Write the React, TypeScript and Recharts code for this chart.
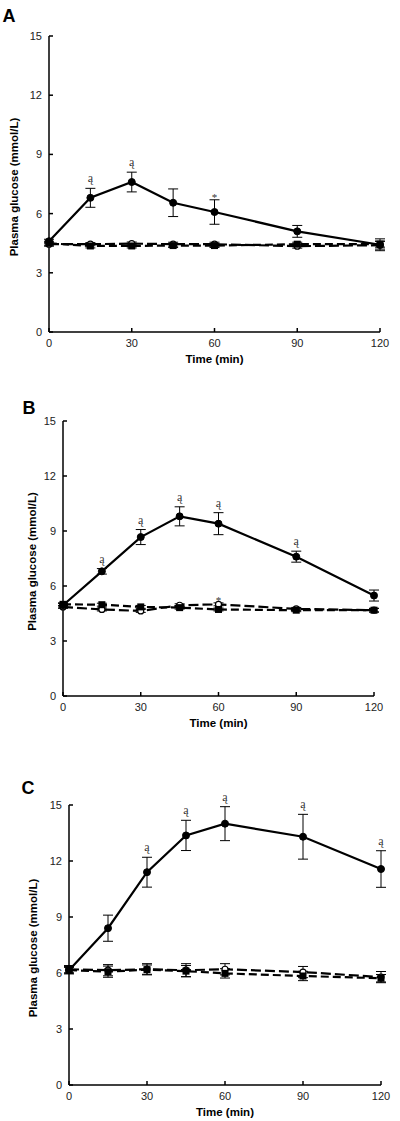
import React from "react";
import { ComposedChart, Line, XAxis, YAxis, ErrorBar, Label } from "recharts";

const TIMES = [0, 15, 30, 45, 60, 90, 120];
const X_TICKS = [0, 30, 60, 90, 120];
const Y_TICKS = [0, 3, 6, 9, 12, 15];

// panel A
const A_TEST = [4.6, 6.8, 7.6, 6.55, 6.08, 5.1, 4.42];
const A_TEST_SEM = [0.1, 0.48, 0.5, 0.7, 0.62, 0.3, 0.3];
const A_SQUARE = [4.5, 4.36, 4.36, 4.38, 4.38, 4.45, 4.45];
const A_SQUARE_SEM = [0.1, 0.1, 0.1, 0.1, 0.1, 0.1, 0.15];
const A_OPEN = [4.45, 4.45, 4.48, 4.45, 4.45, 4.35, 4.4];
const A_OPEN_SEM = [0.1, 0.08, 0.08, 0.1, 0.1, 0.1, 0.2];
const A_MARKS = ["", "ą", "ą", "", "*", "", ""];
const A_OPEN_MARKS = ["", "", "", "", "", "", ""];

// panel B
const B_TEST = [4.95, 6.8, 8.67, 9.8, 9.4, 7.6, 5.48];
const B_TEST_SEM = [0.1, 0.15, 0.41, 0.52, 0.6, 0.3, 0.3];
const B_SQUARE = [5.0, 4.98, 4.86, 4.82, 4.72, 4.68, 4.68];
const B_SQUARE_SEM = [0.08, 0.08, 0.08, 0.08, 0.08, 0.08, 0.1];
const B_OPEN = [4.86, 4.72, 4.64, 4.95, 5.0, 4.75, 4.68];
const B_OPEN_SEM = [0.08, 0.08, 0.08, 0.08, 0.08, 0.08, 0.1];
const B_MARKS = ["", "ą", "ą", "ą", "ą", "ą", ""];
const B_OPEN_MARKS = ["", "", "", "", "*", "", ""];

// panel C
const C_TEST = [6.15, 8.4, 11.4, 13.37, 14.0, 13.3, 11.57];
const C_TEST_SEM = [0.15, 0.7, 0.8, 0.81, 0.91, 1.2, 0.98];
const C_SQUARE = [6.15, 6.07, 6.18, 6.1, 5.98, 5.84, 5.72];
const C_SQUARE_SEM = [0.2, 0.3, 0.25, 0.3, 0.25, 0.25, 0.2];
const C_OPEN = [6.2, 6.15, 6.2, 6.15, 6.2, 6.05, 5.78];
const C_OPEN_SEM = [0.2, 0.3, 0.3, 0.35, 0.3, 0.3, 0.3];
const C_MARKS = ["", "", "ą", "ą", "ą", "ą", "ą"];
const C_OPEN_MARKS = ["", "", "", "", "", "", ""];

const SANS = "'Liberation Sans', Arial, Helvetica, sans-serif";
const SERIF = "'Liberation Serif', 'DejaVu Serif', serif";

function buildRows(test, testSem, square, squareSem, open, openSem, marks, openMarks) {
  return TIMES.map((t, i) => ({
    t,
    test: test[i],
    testSem: testSem[i],
    square: square[i],
    squareSem: squareSem[i],
    open: open[i],
    openSem: openSem[i],
    mark: marks[i],
    markY: marks[i] ? test[i] + testSem[i] : null,
    openMark: openMarks[i],
    openMarkY: openMarks[i] ? open[i] + openSem[i] : null,
  }));
}

const XTick = ({ x, y, payload }) => (
  <g>
    <line x1={x} x2={x} y1={y} y2={y - 4} stroke="#000" strokeWidth={1.5} />
    <text x={x} y={y + 15} textAnchor="middle" fontSize={11} fontFamily={SANS} fill="#222">
      {payload.value}
    </text>
  </g>
);

const YTick = ({ x, y, payload }) => (
  <g>
    <line x1={x} x2={x + 4} y1={y} y2={y} stroke="#000" strokeWidth={1.5} />
    <text x={x - 7} y={y + 4} textAnchor="end" fontSize={11} fontFamily={SANS} fill="#222">
      {payload.value}
    </text>
  </g>
);

const squareDot = (props) => {
  const { cx, cy, index } = props;
  if (cx == null || cy == null) return <g key={`sq-${index}`} />;
  return <rect key={`sq-${index}`} x={cx - 3.5} y={cy - 3.5} width={7} height={7} fill="#000" />;
};

const makeMarkDot = (field) => (props) => {
  const { cx, cy, payload, index } = props;
  const mark = payload[field];
  if (!mark || cx == null || cy == null) return <g key={`${field}-${index}`} />;
  const star = mark === "*";
  return (
    <text
      key={`${field}-${index}`}
      x={cx}
      y={star ? cy + 1 : cy - 6}
      textAnchor="middle"
      fontSize={star ? 11 : 12}
      fontFamily={SERIF}
      fill="#333"
    >
      {mark}
    </text>
  );
};

const testMarkDot = makeMarkDot("mark");
const openMarkDot = makeMarkDot("openMark");

function Panel({ top, height, margin, axisWidth, axisHeight, titleX, rows }) {
  return (
    <div style={{ position: "absolute", left: 0, top }}>
      <ComposedChart width={400} height={height} data={rows} margin={margin}>
        <XAxis
          dataKey="t"
          type="number"
          domain={[0, 120]}
          ticks={X_TICKS}
          height={axisHeight}
          tickSize={0}
          tickMargin={0}
          tick={XTick}
          axisLine={{ stroke: "#000", strokeWidth: 1.5 }}
          tickLine={false}
        >
          <Label
            content={({ viewBox }) => (
              <text
                x={viewBox.x + viewBox.width / 2}
                y={viewBox.y + 31}
                textAnchor="middle"
                fontSize={11.5}
                fontWeight="bold"
                fontFamily={SANS}
                fill="#000"
              >
                Time (min)
              </text>
            )}
          />
        </XAxis>
        <YAxis
          type="number"
          domain={[0, 15]}
          ticks={Y_TICKS}
          width={axisWidth}
          tickSize={0}
          tickMargin={0}
          tick={YTick}
          axisLine={{ stroke: "#000", strokeWidth: 1.5 }}
          tickLine={false}
        >
          <Label
            content={({ viewBox }) => {
              const cy = viewBox.y + viewBox.height / 2 + 3;
              return (
                <text
                  transform={`translate(${titleX}, ${cy}) rotate(-90)`}
                  x={0}
                  y={4}
                  textAnchor="middle"
                  fontSize={11.5}
                  fontWeight="bold"
                  fontFamily={SANS}
                  fill="#000"
                >
                  Plasma glucose (mmol/L)
                </text>
              );
            }}
          />
        </YAxis>
        <Line
          dataKey="open"
          stroke="#000"
          strokeWidth={2.2}
          strokeDasharray="10 4"
          dot={{ r: 3, fill: "#fff", stroke: "#000", strokeWidth: 1.2, strokeDasharray: "" }}
          activeDot={false}
          isAnimationActive={false}
        >
          <ErrorBar dataKey="openSem" direction="y" width={5} stroke="#000" strokeWidth={1} />
        </Line>
        <Line
          dataKey="square"
          stroke="#000"
          strokeWidth={2.2}
          strokeDasharray="8 4"
          dot={squareDot}
          activeDot={false}
          isAnimationActive={false}
        >
          <ErrorBar dataKey="squareSem" direction="y" width={5} stroke="#000" strokeWidth={1} />
        </Line>
        <Line
          dataKey="test"
          stroke="#000"
          strokeWidth={2.2}
          dot={{ r: 3.5, fill: "#000", stroke: "#000", strokeWidth: 1 }}
          activeDot={false}
          isAnimationActive={false}
        >
          <ErrorBar dataKey="testSem" direction="y" width={5} stroke="#000" strokeWidth={1} />
        </Line>
        <Line
          dataKey="markY"
          stroke="none"
          dot={testMarkDot}
          activeDot={false}
          legendType="none"
          isAnimationActive={false}
        />
        <Line
          dataKey="openMarkY"
          stroke="none"
          dot={openMarkDot}
          activeDot={false}
          legendType="none"
          isAnimationActive={false}
        />
      </ComposedChart>
    </div>
  );
}

const PANEL_LETTERS = [
  { letter: "A", x: 2.5, y: 21.5 },
  { letter: "B", x: 22.5, y: 413.5 },
  { letter: "C", x: 21.5, y: 794 },
];

export default function App() {
  return (
    <div style={{ position: "absolute", left: 0, top: 0, width: 400, height: 1121, background: "#fff" }}>
      <Panel
        top={0}
        height={370}
        margin={{ top: 36, right: 20, bottom: 0, left: 0 }}
        axisWidth={49}
        axisHeight={38}
        titleX={13.5}
        rows={buildRows(A_TEST, A_TEST_SEM, A_SQUARE, A_SQUARE_SEM, A_OPEN, A_OPEN_SEM, A_MARKS, A_OPEN_MARKS)}
      />
      <Panel
        top={380}
        height={354}
        margin={{ top: 41, right: 26, bottom: 0, left: 0 }}
        axisWidth={63}
        axisHeight={38}
        titleX={31.5}
        rows={buildRows(B_TEST, B_TEST_SEM, B_SQUARE, B_SQUARE_SEM, B_OPEN, B_OPEN_SEM, B_MARKS, B_OPEN_MARKS)}
      />
      <Panel
        top={760}
        height={361}
        margin={{ top: 45, right: 19, bottom: 0, left: 0 }}
        axisWidth={69}
        axisHeight={36}
        titleX={33}
        rows={buildRows(C_TEST, C_TEST_SEM, C_SQUARE, C_SQUARE_SEM, C_OPEN, C_OPEN_SEM, C_MARKS, C_OPEN_MARKS)}
      />
      <svg width={400} height={1121} style={{ position: "absolute", left: 0, top: 0, pointerEvents: "none" }}>
        {PANEL_LETTERS.map((p) => (
          <text key={p.letter} x={p.x} y={p.y} fontSize={18} fontWeight="bold" fontFamily={SANS} fill="#000">
            {p.letter}
          </text>
        ))}
      </svg>
    </div>
  );
}
